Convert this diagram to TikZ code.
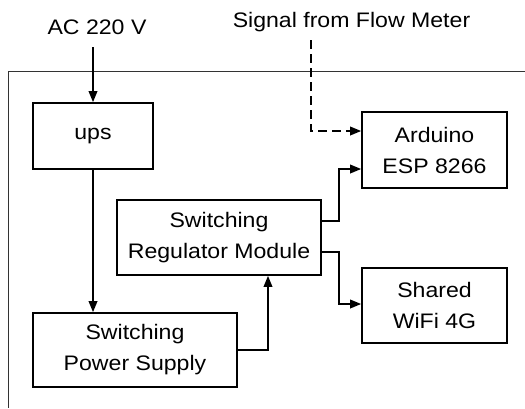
\documentclass[tikz,border=0pt]{standalone}
\usepackage{fontspec}
\setmainfont[FakeStretch=1.1]{Liberation Sans}
\usetikzlibrary{arrows.meta}
\begin{document}
\begin{tikzpicture}[x=1pt,y=-1pt,
  box/.style={draw=black,line width=1.6pt,align=center,inner sep=0pt,
    font=\fontsize{21}{31}\selectfont},
  lbl/.style={font=\fontsize{21}{25}\selectfont,inner sep=0pt},
  arr/.style={line width=1.8pt,-{Triangle[length=11pt,width=8.5pt]}},
  dasharr/.style={arr,dash pattern=on 9pt off 5pt},
  frame/.style={line width=1pt,draw=black!80}]
\useasboundingbox (0,0) rectangle (525,408);
\draw[frame] (525,71) -- (8,71) -- (8,408);
\node[lbl] (ac) at (97,27) {AC 220 V};
\node[lbl] (sig) at (351.5,22) {Signal from Flow Meter};
\coordinate (acstart) at (93,47);
\coordinate (sigstart) at (311,40);
\node[box,minimum width=120pt,minimum height=66pt] (ups) at (93,136) {ups};
\node[box,minimum width=145pt,minimum height=76pt] (ard) at (434.5,150) {Arduino\\ESP 8266};
\node[box,minimum width=204pt,minimum height=75pt] (srm) at (219,237.5) {Switching\\Regulator Module};
\node[box,minimum width=145pt,minimum height=75pt] (wifi) at (434.5,305.5) {Shared\\WiFi 4G};
\node[box,minimum width=204pt,minimum height=74pt] (sps) at (135,350) {Switching\\Power Supply};
\draw[arr] (acstart) -- (ups.north);
\draw[dasharr] (sigstart) |- ([yshift=19pt]ard.west);
\draw[arr] (ups.south) -- (ups.south |- sps.north);
\draw[arr] (sps.east) -| ([xshift=49pt]srm.south);
\draw[arr] ([yshift=16.5pt]srm.east) -- ++(17,0) |- ([yshift=-19pt]ard.west);
\draw[arr] ([yshift=-14.5pt]srm.east) -- ++(17,0) |- ([yshift=1.5pt]wifi.west);
\end{tikzpicture}
\end{document}
